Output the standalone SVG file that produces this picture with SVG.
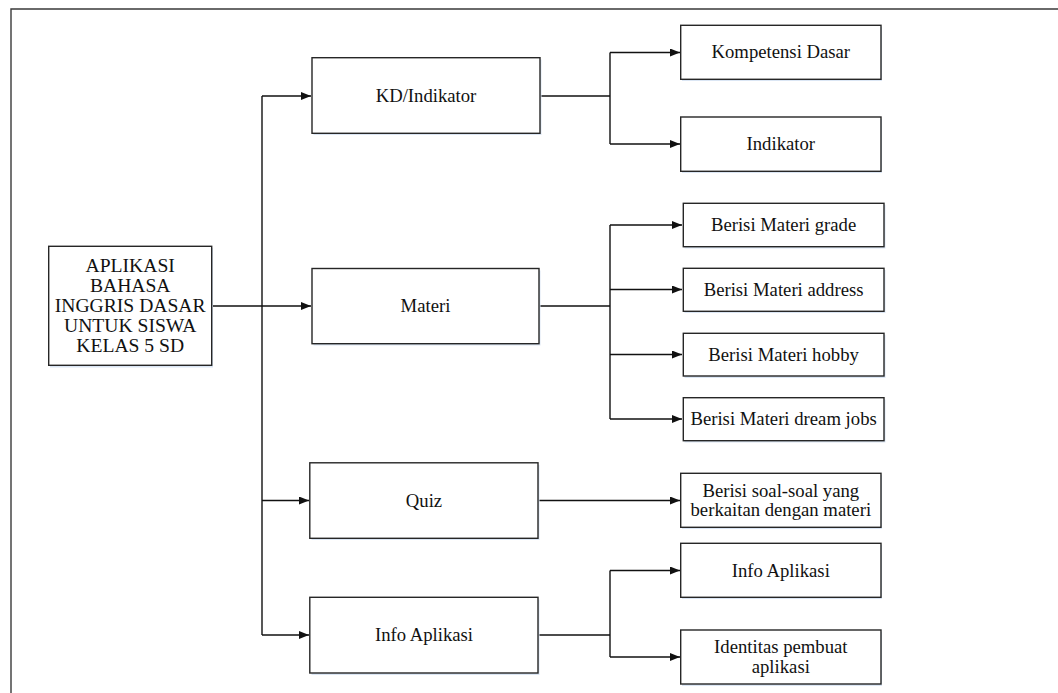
<svg xmlns="http://www.w3.org/2000/svg" width="1058" height="693" viewBox="0 0 1058 693">
  <style>
    .box { fill: #ffffff; stroke: #262626; stroke-width: 1.4; }
    .shadow { fill: #dbe6f4; stroke: none; }
    .lbl { font-family: "Liberation Serif", "Times New Roman", serif; font-size: 18.7px; fill: #111111; text-anchor: middle; }
    .big { font-size: 19.6px; }
    .wire { fill: none; stroke: #111111; stroke-width: 1.4; }
    .frame { fill: none; stroke: #3a3a3a; stroke-width: 1.4; }
  </style>
  <defs>
    <marker id="arrow" markerUnits="userSpaceOnUse" markerWidth="10" markerHeight="8" refX="10" refY="4" orient="auto">
      <path d="M0,0 L10,4 L0,8 Z" fill="#111111"/>
    </marker>
  </defs>

  <rect x="0" y="0" width="1058" height="693" fill="#ffffff"/>

  <!-- page frame (open at right and bottom) -->
  <path class="frame" d="M11,693 V9 H1058"/>

  <!-- connectors -->
  <g id="connectors">
    <!-- root to first level -->
    <path class="wire" d="M212,306 H311" marker-end="url(#arrow)"/>
    <path class="wire" d="M262,96 V635"/>
    <path class="wire" d="M262,96 H311" marker-end="url(#arrow)"/>
    <path class="wire" d="M262,500.5 H309" marker-end="url(#arrow)"/>
    <path class="wire" d="M262,635 H309" marker-end="url(#arrow)"/>

    <!-- KD/Indikator branch -->
    <path class="wire" d="M540,96 H610"/>
    <path class="wire" d="M610,52.5 V144"/>
    <path class="wire" d="M610,52.5 H680" marker-end="url(#arrow)"/>
    <path class="wire" d="M610,144 H680" marker-end="url(#arrow)"/>

    <!-- Materi branch -->
    <path class="wire" d="M539,306 H610"/>
    <path class="wire" d="M610,225 V419"/>
    <path class="wire" d="M610,225 H682" marker-end="url(#arrow)"/>
    <path class="wire" d="M610,289.5 H682" marker-end="url(#arrow)"/>
    <path class="wire" d="M610,354.5 H682" marker-end="url(#arrow)"/>
    <path class="wire" d="M610,419 H682" marker-end="url(#arrow)"/>

    <!-- Quiz branch -->
    <path class="wire" d="M538,500.5 H680" marker-end="url(#arrow)"/>

    <!-- Info Aplikasi branch -->
    <path class="wire" d="M538,635 H610"/>
    <path class="wire" d="M610,570.5 V657"/>
    <path class="wire" d="M610,570.5 H680" marker-end="url(#arrow)"/>
    <path class="wire" d="M610,657 H680" marker-end="url(#arrow)"/>
  </g>

  <!-- root -->
  <g id="root">
    <rect class="shadow" x="50" y="248" width="163" height="119.5"/>
    <rect class="box" x="48.7" y="246.3" width="163" height="119"/>
    <text class="lbl big" x="130.2" y="271.7">APLIKASI</text>
    <text class="lbl big" x="130.2" y="291.8">BAHASA</text>
    <text class="lbl big" x="130.2" y="312">INGGRIS DASAR</text>
    <text class="lbl big" x="130.2" y="332">UNTUK SISWA</text>
    <text class="lbl big" x="130.2" y="352.3">KELAS 5 SD</text>
  </g>

  <!-- first level -->
  <g id="kd-indikator">
    <rect class="shadow" x="313.5" y="59.5" width="228" height="75.5"/>
    <rect class="box" x="312" y="57.7" width="228" height="75.6"/>
    <text class="lbl" x="426" y="101.5">KD/Indikator</text>
  </g>
  <g id="materi">
    <rect class="shadow" x="313.5" y="270.5" width="227" height="75"/>
    <rect class="box" x="312" y="268.5" width="227" height="75.2"/>
    <text class="lbl" x="425.5" y="312">Materi</text>
  </g>
  <g id="quiz">
    <rect class="shadow" x="311.5" y="465" width="228" height="75"/>
    <rect class="box" x="309.8" y="462.8" width="228.2" height="75.5"/>
    <text class="lbl" x="424" y="506.5">Quiz</text>
  </g>
  <g id="info-aplikasi">
    <rect class="shadow" x="311.5" y="599.5" width="228" height="75.5"/>
    <rect class="box" x="309.8" y="597.3" width="228.2" height="75.7"/>
    <text class="lbl" x="424" y="641">Info Aplikasi</text>
  </g>

  <!-- second level: KD/Indikator -->
  <g id="kompetensi-dasar">
    <rect class="shadow" x="682" y="27" width="200" height="54"/>
    <rect class="box" x="680.7" y="25.3" width="200.3" height="54"/>
    <text class="lbl" x="780.8" y="58.3">Kompetensi Dasar</text>
  </g>
  <g id="indikator">
    <rect class="shadow" x="682" y="119" width="200" height="54"/>
    <rect class="box" x="680.7" y="117" width="200.3" height="54.3"/>
    <text class="lbl" x="780.8" y="150">Indikator</text>
  </g>

  <!-- second level: Materi -->
  <g id="materi-grade">
    <rect class="shadow" x="684.5" y="205" width="201" height="43.5"/>
    <rect class="box" x="683.3" y="203.3" width="200.7" height="43.4"/>
    <text class="lbl" x="783.6" y="231">Berisi Materi grade</text>
  </g>
  <g id="materi-address">
    <rect class="shadow" x="684.5" y="270" width="201" height="43"/>
    <rect class="box" x="683.3" y="268.3" width="200.7" height="43"/>
    <text class="lbl" x="783.6" y="295.5">Berisi Materi address</text>
  </g>
  <g id="materi-hobby">
    <rect class="shadow" x="684.5" y="335" width="201" height="43"/>
    <rect class="box" x="683.3" y="333.3" width="200.7" height="42.7"/>
    <text class="lbl" x="783.6" y="360.5">Berisi Materi hobby</text>
  </g>
  <g id="materi-dream-jobs">
    <rect class="shadow" x="684.5" y="399.5" width="201" height="43"/>
    <rect class="box" x="683.3" y="397.7" width="200.7" height="43"/>
    <text class="lbl" x="783.6" y="425">Berisi Materi dream jobs</text>
  </g>

  <!-- second level: Quiz -->
  <g id="soal-soal">
    <rect class="shadow" x="682" y="475" width="200" height="54"/>
    <rect class="box" x="680.7" y="473.3" width="200.3" height="54"/>
    <text class="lbl" x="780.8" y="496.7">Berisi soal-soal yang</text>
    <text class="lbl" x="780.8" y="516">berkaitan dengan materi</text>
  </g>

  <!-- second level: Info Aplikasi -->
  <g id="info-aplikasi-detail">
    <rect class="shadow" x="682" y="545" width="200" height="54"/>
    <rect class="box" x="680.7" y="543.3" width="200.3" height="54"/>
    <text class="lbl" x="780.8" y="576.5">Info Aplikasi</text>
  </g>
  <g id="identitas-pembuat">
    <rect class="shadow" x="682" y="632" width="200" height="54"/>
    <rect class="box" x="680.7" y="630" width="200.3" height="54"/>
    <text class="lbl" x="780.8" y="653.3">Identitas pembuat</text>
    <text class="lbl" x="780.8" y="672.5">aplikasi</text>
  </g>
</svg>
